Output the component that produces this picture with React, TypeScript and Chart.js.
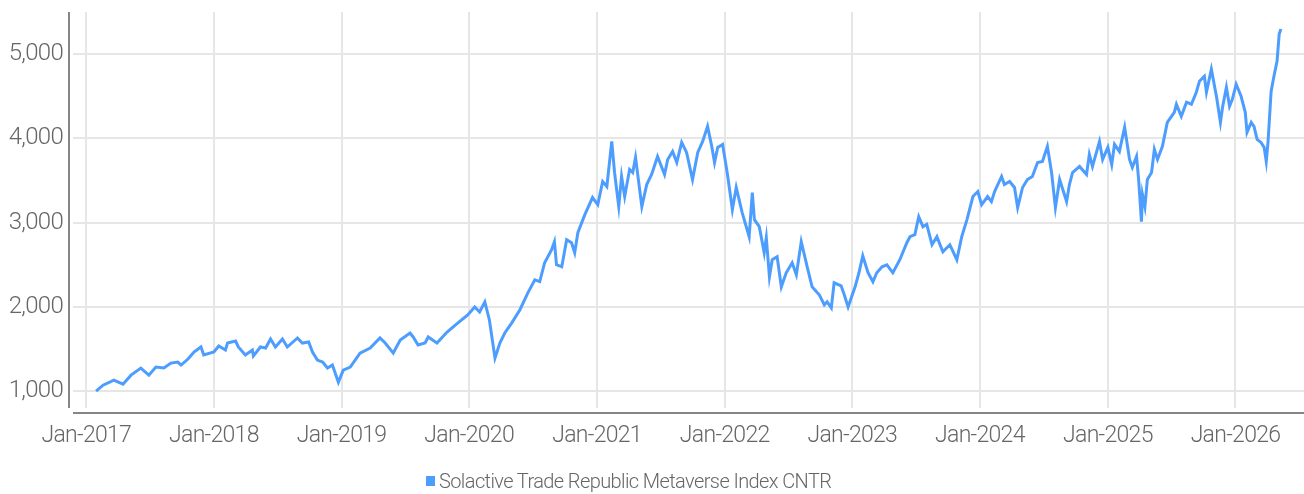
import React, { useEffect, useRef } from 'react';
import { Chart, registerables } from 'chart.js';

Chart.register(...registerables);

const seriesLabel = 'Solactive Trade Republic Metaverse Index CNTR';

const dates: string[] = [
  '2017-01-29','2017-02-18','2017-03-21','2017-04-16','2017-05-09','2017-06-06','2017-06-29','2017-07-19','2017-08-11','2017-08-31','2017-09-20','2017-09-29','2017-10-19','2017-11-05','2017-11-25','2017-12-03',
  '2018-01-01','2018-01-15','2018-02-03','2018-02-09','2018-03-04','2018-03-12','2018-04-01','2018-04-21','2018-04-24','2018-05-14','2018-05-29','2018-06-12','2018-06-26','2018-07-16','2018-07-30','2018-08-28','2018-09-11','2018-09-29','2018-10-10','2018-10-24','2018-11-08','2018-11-22','2018-12-06','2018-12-23',
  '2019-01-06','2019-01-26','2019-02-23','2019-03-24','2019-04-21','2019-05-06','2019-05-29','2019-06-18','2019-07-16','2019-07-25','2019-08-08','2019-08-28','2019-09-06','2019-10-01','2019-10-30','2019-11-30','2019-12-28',
  '2020-01-17','2020-01-31','2020-02-15','2020-02-28','2020-03-15','2020-03-29','2020-04-12','2020-05-02','2020-05-25','2020-06-17','2020-07-07','2020-07-21','2020-08-04','2020-08-24','2020-09-01','2020-09-07','2020-09-22','2020-10-06','2020-10-20','2020-10-29','2020-11-07','2020-11-27','2020-12-19',
  '2021-01-03','2021-01-17','2021-01-29','2021-02-12','2021-02-20','2021-03-04','2021-03-12','2021-03-21','2021-04-04','2021-04-13','2021-04-21','2021-05-09','2021-05-23','2021-06-06','2021-06-23','2021-07-13','2021-07-22','2021-08-05','2021-08-17','2021-08-31','2021-09-14','2021-10-01','2021-10-16','2021-10-30','2021-11-13','2021-11-25','2021-12-03','2021-12-12','2021-12-26',
  '2022-01-09','2022-01-23','2022-02-03','2022-02-20','2022-03-12','2022-03-21','2022-03-27','2022-04-10','2022-04-24','2022-04-30','2022-05-09','2022-05-17','2022-05-31','2022-06-12','2022-06-26','2022-07-13','2022-07-25','2022-08-08','2022-08-25','2022-09-08','2022-09-29','2022-10-13','2022-10-21','2022-11-02','2022-11-10','2022-11-30','2022-12-09','2022-12-20',
  '2023-01-09','2023-01-20','2023-01-31','2023-02-15','2023-03-01','2023-03-12','2023-03-27','2023-04-10','2023-04-27','2023-05-17','2023-06-06','2023-06-15','2023-06-29','2023-07-10','2023-07-22','2023-08-02','2023-08-17','2023-08-31','2023-09-17','2023-10-07','2023-10-27','2023-11-10','2023-11-25','2023-12-12','2023-12-26',
  '2024-01-06','2024-01-23','2024-02-03','2024-02-12','2024-03-03','2024-03-11','2024-03-26','2024-04-09','2024-04-18','2024-05-02','2024-05-16','2024-05-30','2024-06-14','2024-06-28','2024-07-12','2024-07-24','2024-08-04','2024-08-16','2024-09-05','2024-09-13','2024-09-22','2024-10-12','2024-11-01','2024-11-09','2024-11-18','2024-12-08','2024-12-17',
  '2025-01-01','2025-01-12','2025-01-20','2025-02-03','2025-02-18','2025-03-04','2025-03-12','2025-03-24','2025-03-30','2025-04-07','2025-04-10','2025-04-17','2025-04-24','2025-05-06','2025-05-14','2025-05-23','2025-06-06','2025-06-20','2025-07-10','2025-07-16','2025-07-30','2025-08-14','2025-08-28','2025-09-11','2025-09-20','2025-10-04','2025-10-10','2025-10-24','2025-11-08','2025-11-19','2025-11-25','2025-12-06','2025-12-15','2025-12-23',
  '2026-01-03','2026-01-17','2026-01-29','2026-02-03','2026-02-15','2026-02-23','2026-03-04','2026-03-15','2026-03-24','2026-03-30','2026-04-04','2026-04-13','2026-04-21','2026-04-30','2026-05-06','2026-05-11',
];

const values: number[] = [
  1000,1071,1131,1083,1190,1274,1190,1286,1274,1333,1345,1310,1381,1464,1524,1429,
  1464,1536,1488,1571,1595,1524,1429,1488,1417,1524,1512,1619,1524,1619,1524,1631,1571,1583,1464,1369,1345,1274,1310,1107,
  1250,1286,1452,1512,1631,1571,1452,1607,1690,1643,1548,1571,1643,1571,1702,1810,1905,
  2000,1940,2060,1845,1393,1571,1690,1810,1964,2167,2321,2300,2524,2679,2774,2500,2476,2798,2762,2643,2881,3095,3298,
  3214,3488,3429,3964,3595,3190,3548,3310,3631,3595,3774,3190,3452,3571,3786,3571,3750,3845,3714,3952,3833,3512,3833,3964,4143,3905,3714,3893,3929,
  3571,3155,3417,3119,2833,3357,3036,2952,2643,2821,2357,2560,2595,2238,2405,2524,2381,2774,2476,2238,2140,2024,2060,1988,2286,2250,2143,2000,
  2238,2405,2607,2405,2298,2405,2476,2500,2405,2560,2762,2833,2857,3071,2952,2980,2738,2833,2655,2738,2560,2833,3036,3310,3369,
  3214,3310,3250,3369,3548,3452,3488,3417,3179,3417,3512,3548,3714,3726,3905,3595,3179,3512,3250,3452,3595,3667,3571,3810,3667,3964,3750,
  3893,3690,3929,3845,4131,3750,3655,3786,3512,3012,3333,3190,3512,3595,3869,3750,3905,4190,4310,4405,4262,4429,4405,4548,4679,4738,4548,4821,4488,4190,4369,4607,4381,4464,
  4643,4500,4310,4071,4190,4143,3988,3952,3893,3726,3952,4560,4738,4917,5238,5298,
];

const yTickValues: number[] = [1000, 2000, 3000, 4000, 5000];
const xTickYears: number[] = [2017, 2018, 2019, 2020, 2021, 2022, 2023, 2024, 2025, 2026];
const xRangeDates: string[] = ['2016-11-24', '2026-07-16'];
const yRange: number[] = [800, 5500];

const toTs = (d: string) => Date.parse(d + 'T00:00:00Z');

const FONT = 'Roboto, "Noto Sans", sans-serif';
const LINE_COLOR = '#4d9dff';
const TEXT_COLOR = '#666666';
const LETTER_SPACING = '-0.7px';

const letterSpacingPlugin = {
  id: 'letterSpacing',
  beforeUpdate(chart: any) {
    chart.ctx.letterSpacing = LETTER_SPACING;
  },
  beforeDraw(chart: any) {
    chart.ctx.letterSpacing = LETTER_SPACING;
  },
};

const axisLinesPlugin = {
  id: 'axisLines',
  afterDraw(chart: any) {
    const { ctx, chartArea } = chart;
    const { left, right, top, bottom } = chartArea;
    ctx.save();
    ctx.strokeStyle = '#858585';
    ctx.lineWidth = 2;
    ctx.beginPath();
    ctx.moveTo(left - 4, top);
    ctx.lineTo(left - 4, bottom);
    ctx.moveTo(left, bottom + 5);
    ctx.lineTo(right, bottom + 5);
    ctx.stroke();
    ctx.restore();
  },
};

export default function App() {
  const canvasRef = useRef<HTMLCanvasElement | null>(null);

  useEffect(() => {
    document.body.style.margin = '0';
    const canvas = canvasRef.current;
    if (!canvas) return;
    const points = dates.map((d, i) => ({ x: toTs(d), y: values[i] }));
    const chart = new Chart(canvas, {
      type: 'line',
      data: {
        datasets: [
          {
            label: seriesLabel,
            data: points,
            borderColor: LINE_COLOR,
            backgroundColor: LINE_COLOR,
            borderWidth: 3,
            pointRadius: 0,
            tension: 0,
            fill: false,
          },
        ],
      },
      options: {
        animation: false,
        responsive: false,
        layout: { padding: { top: 12, right: 0, bottom: 46, left: 0 } },
        plugins: {
          legend: { display: false },
          tooltip: { enabled: false },
        },
        scales: {
          x: {
            type: 'linear',
            min: toTs(xRangeDates[0]),
            max: toTs(xRangeDates[1]),
            afterBuildTicks: (scale: any) => {
              scale.ticks = xTickYears.map((y) => ({ value: Date.UTC(y, 0, 1) }));
            },
            afterFit: (scale: any) => {
              scale.height = 40;
            },
            ticks: {
              autoSkip: false,
              maxRotation: 0,
              minRotation: 0,
              padding: 14,
              color: TEXT_COLOR,
              font: { family: FONT, size: 23, weight: '300' },
              callback: (v: any) => 'Jan-' + new Date(Number(v)).getUTCFullYear(),
            },
            grid: { color: '#e6e6e6', lineWidth: 2, drawTicks: false },
            border: { display: false },
          },
          y: {
            type: 'linear',
            min: yRange[0],
            max: yRange[1],
            afterBuildTicks: (scale: any) => {
              scale.ticks = yTickValues.map((v) => ({ value: v }));
            },
            afterFit: (scale: any) => {
              scale.width = 73;
            },
            ticks: {
              padding: 10,
              color: TEXT_COLOR,
              font: { family: FONT, size: 24, weight: '300', lineHeight: 0.1 },
              callback: (v: any) => Number(v).toLocaleString('en-US'),
            },
            grid: { color: '#e6e6e6', lineWidth: 2, drawTicks: false },
            border: { display: false },
          },
        },
      },
      plugins: [letterSpacingPlugin, axisLinesPlugin],
    });
    return () => chart.destroy();
  }, []);

  return (
    <div style={{ position: 'relative', width: 1304, height: 494 }}>
      <canvas ref={canvasRef} width={1304} height={494} style={{ display: 'block' }} />
      <div
        style={{
          position: 'absolute',
          left: 426,
          top: 468,
          height: 26,
          display: 'flex',
          alignItems: 'center',
          fontFamily: FONT,
          fontSize: 20,
          fontWeight: 300,
          letterSpacing: '-0.6px',
          color: TEXT_COLOR,
          whiteSpace: 'nowrap',
        }}
      >
        <span style={{ display: 'inline-block', width: 9, height: 10, background: LINE_COLOR, marginRight: 4 }} />
        <span>{seriesLabel}</span>
      </div>
    </div>
  );
}
